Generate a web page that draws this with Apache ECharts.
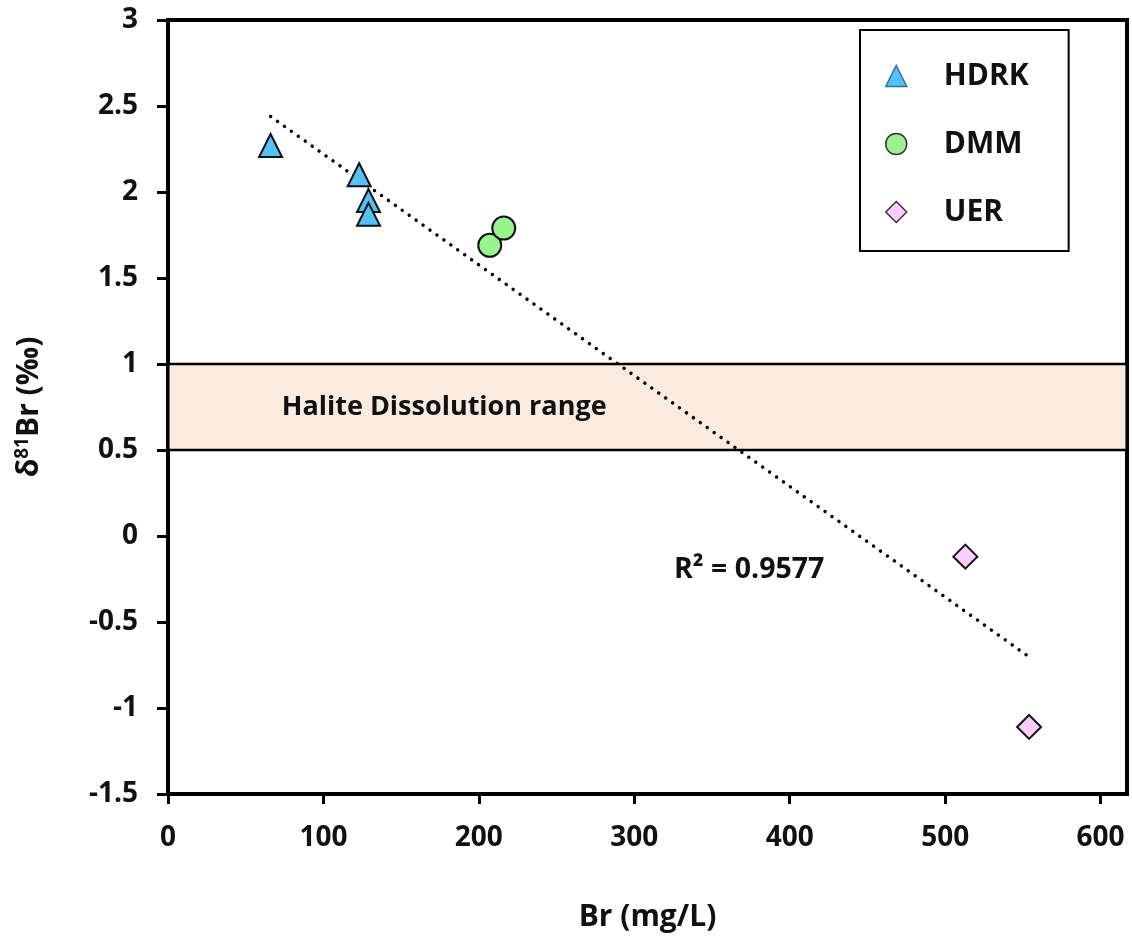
<!DOCTYPE html>
<html>
<head>
<meta charset="utf-8">
<script src="https://cdn.jsdelivr.net/npm/echarts@6/dist/echarts.min.js"></script>
<style>
  html, body { margin: 0; padding: 0; background: #fff; }
  #chart { width: 1132px; height: 946px; }
</style>
</head>
<body>
<div id="chart"></div>
<script>
// Br concentration (mg/L) and δ81Br (‰) for each group of samples
const hdrkBr = [66, 123, 129, 129];
const hdrkDelta = [2.27, 2.10, 1.95, 1.87];
const dmmBr = [207, 216];
const dmmDelta = [1.69, 1.79];
const uerBr = [513, 554];
const uerDelta = [-0.12, -1.11];

// Halite dissolution δ81Br band
const haliteRange = [0.5, 1.0];
const r2Label = 'R² = 0.9577';

const FONT = '"Open Sans", sans-serif';

function pairs(xs, ys) { return xs.map((x, i) => [x, ys[i]]); }

// Least-squares linear trend across all samples
const allX = [...hdrkBr, ...dmmBr, ...uerBr];
const allY = [...hdrkDelta, ...dmmDelta, ...uerDelta];
const n = allX.length;
const mx = allX.reduce((a, b) => a + b, 0) / n;
const my = allY.reduce((a, b) => a + b, 0) / n;
let sxy = 0, sxx = 0;
for (let i = 0; i < n; i++) { sxy += (allX[i] - mx) * (allY[i] - my); sxx += (allX[i] - mx) ** 2; }
const slope = sxy / sxx;
const intercept = my - slope * mx;
const xLo = Math.min(...allX), xHi = Math.max(...allX);
const trend = [[xLo, intercept + slope * xLo], [xHi, intercept + slope * xHi]];

const chart = echarts.init(document.getElementById('chart'));
chart.setOption({
  backgroundColor: '#fff',
  animation: false,
  grid: {
    left: 168, top: 20, width: 959, height: 774,
    show: true, borderColor: '#000', borderWidth: 4, backgroundColor: 'transparent'
  },
  legend: {
    orient: 'vertical',
    left: 860, top: 30,
    width: 212,
    padding: [31, 40, 24, 25],
    itemGap: 38,
    itemWidth: 21, itemHeight: 21,
    backgroundColor: '#fff',
    borderColor: '#000', borderWidth: 2,
    textStyle: { fontFamily: FONT, fontWeight: 'bold', fontSize: 30, color: '#111', lineHeight: 30, padding: [0, 0, 0, 32] },
    data: [
      { name: 'HDRK', icon: 'triangle', itemStyle: { color: '#55C1F5', borderColor: '#2F6FA8', borderWidth: 1.5 } },
      { name: 'DMM', icon: 'circle', itemStyle: { color: '#98F58E', borderColor: '#333', borderWidth: 1.5 } },
      { name: 'UER', icon: 'diamond', itemStyle: { color: '#FFCCFF', borderColor: '#333', borderWidth: 1.5 } }
    ]
  },
  xAxis: {
    type: 'value', min: 0, max: 617, interval: 100,
    name: 'Br (mg/L)', nameLocation: 'middle', nameGap: 108,
    nameTextStyle: { fontFamily: FONT, fontWeight: 'bold', fontSize: 30, color: '#111' },
    axisLine: { show: true, onZero: false, lineStyle: { color: '#000', width: 4 } },
    axisTick: { show: true, inside: false, length: 10, lineStyle: { color: '#000', width: 3 } },
    axisLabel: { margin: 30, showMaxLabel: false, fontFamily: FONT, fontWeight: 'bold', fontSize: 28, color: '#111' },
    splitLine: { show: false }
  },
  yAxis: {
    type: 'value', min: -1.5, max: 3, interval: 0.5,
    name: '{a|δ}{s|81}{a|Br (‰)}', nameLocation: 'middle', nameGap: 122,
    nameTextStyle: {
      rich: {
        a: { fontFamily: FONT, fontWeight: 'bold', fontSize: 30, color: '#111' },
        s: { fontFamily: FONT, fontWeight: 'bold', fontSize: 19, color: '#111', verticalAlign: 'top', padding: [0, 0, 14, 0] }
      }
    },
    axisLine: { show: true, onZero: false, lineStyle: { color: '#000', width: 4 } },
    axisTick: { show: true, inside: false, length: 11, lineStyle: { color: '#000', width: 3 } },
    axisLabel: { margin: 30, fontFamily: FONT, fontWeight: 'bold', fontSize: 28, color: '#111' },
    splitLine: { show: false }
  },
  graphic: [
    {
      type: 'text', left: 674, top: 555, z: 10,
      style: { text: r2Label, fontFamily: FONT, fontWeight: 'bold', fontSize: 28.5, fill: '#111' }
    }
  ],
  series: [
    {
      name: 'trend', type: 'line', data: trend, showSymbol: false, silent: true, z: 1,
      lineStyle: { color: '#000', width: 3.5, type: [0.01, 8.5], cap: 'round' }
    },
    {
      name: 'band', type: 'line', data: [], z: 3, silent: true,
      markArea: {
        silent: true,
        itemStyle: { color: 'rgba(246,222,205,0.62)', borderColor: '#000', borderWidth: 2.5 },
        label: {
          show: true, position: [115, '50%'], verticalAlign: 'middle', align: 'left',
          fontFamily: FONT, fontWeight: 'bold', fontSize: 27, color: '#111'
        },
        data: [[
          { name: 'Halite Dissolution range', xAxis: 0, yAxis: haliteRange[0] },
          { xAxis: 617, yAxis: haliteRange[1] }
        ]]
      }
    },
    {
      name: 'HDRK', type: 'scatter', symbol: 'triangle', symbolSize: 23, z: 5,
      itemStyle: { color: '#55C1F5', borderColor: '#111', borderWidth: 2, opacity: 1 },
      data: pairs(hdrkBr, hdrkDelta)
    },
    {
      name: 'DMM', type: 'scatter', symbol: 'circle', symbolSize: 23, z: 5,
      itemStyle: { color: '#98F58E', borderColor: '#111', borderWidth: 2, opacity: 1 },
      data: pairs(dmmBr, dmmDelta)
    },
    {
      name: 'UER', type: 'scatter', symbol: 'diamond', symbolSize: 24, z: 5,
      itemStyle: { color: '#FFCCFF', borderColor: '#111', borderWidth: 2, opacity: 1 },
      data: pairs(uerBr, uerDelta)
    }
  ]
});
</script>
</body>
</html>
